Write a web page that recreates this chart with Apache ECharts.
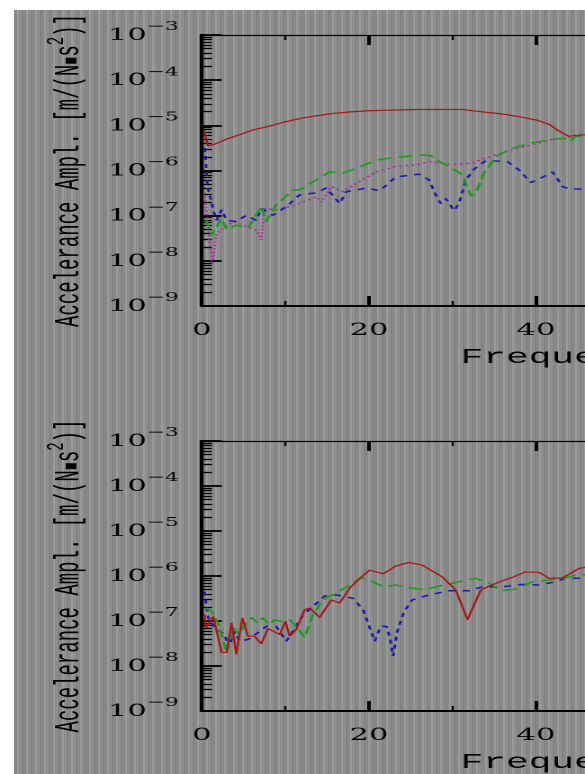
<!DOCTYPE html>
<html>
<head>
<meta charset="utf-8">
<script src="https://cdn.jsdelivr.net/npm/echarts@6/dist/echarts.min.js"></script>
<style>
html,body{margin:0;padding:0;width:585px;height:774px;overflow:hidden;background:#fff;}
#paper{position:absolute;left:14px;top:10px;width:571px;height:764px;background-color:#8d8d8d;
  background-image:repeating-linear-gradient(90deg,#888888 0px,#888888 3px,#9a9a9a 3px,#9a9a9a 5px,#8e8e8e 5px,#8e8e8e 8px,#808080 8px,#808080 9px);}
/* the original figure is stretched sideways, so the chart is drawn narrow and stretched */
#chart{position:absolute;left:0;top:0;width:600px;height:774px;transform:scaleX(1.8);transform-origin:0 0;}
</style>
</head>
<body>
<div id="paper"></div>
<div id="chart"></div>
<script>
// upper panel
var tRedF = [0.3,0.7,1.5,3,4.5,6,8,10,12,14,16,18,20,22,24,26,28,30,31.2,32,34,36,38,40,41.6,42.7,43.9,44.6,46];
var tRedA = [7.6e-6,3.5e-6,3.8e-6,5.0e-6,6.2e-6,7.8e-6,9.5e-6,1.2e-5,1.45e-5,1.66e-5,1.86e-5,2.0e-5,2.1e-5,2.15e-5,2.2e-5,2.24e-5,2.24e-5,2.24e-5,2.24e-5,2.15e-5,1.95e-5,1.78e-5,1.55e-5,1.32e-5,1.05e-5,7.6e-6,5.75e-6,5.9e-6,6.2e-6];
var tGrnF = [0.5,1.2,2.3,3.0,4.1,5.5,7.1,7.7,8.9,10.9,11.7,13.7,15.3,16.9,18.5,20.9,23.2,26.4,27.4,28.4,30,31.2,32.2,32.8,33.8,35.2,36.8,39.2,42,43.5,44.1,44.7,46];
var tGrnA = [7.9e-8,3.7e-8,8.7e-8,4.8e-8,6.2e-8,5.2e-8,1.58e-7,7.4e-8,1.74e-7,3.7e-7,3.7e-7,6.2e-7,9.3e-7,8.7e-7,1.12e-6,1.7e-6,1.95e-6,2.2e-6,2.14e-6,1.58e-6,1.12e-6,7.9e-7,2.75e-7,3.2e-7,8.7e-7,2.0e-6,2.95e-6,4.0e-6,4.9e-6,5.1e-6,4.4e-6,5.6e-6,6.0e-6];
var tBluF = [0.35,0.65,1.0,1.4,1.75,2.35,2.95,4.1,5.3,6.5,7.1,8.5,10.1,11.7,13.7,14.9,16.5,17.3,19.7,21.3,23.2,26,27.2,28,28.6,29.2,30.2,30.8,31.6,32.6,34,36.6,38,39.4,40.8,42,43.2,44,46];
var tBluA = [3.16e-6,4.4e-7,2.6e-7,1.23e-7,7.9e-8,1.35e-7,7.9e-8,7.4e-8,1.02e-7,7.9e-8,1.45e-7,1.02e-7,1.58e-7,2.9e-7,3.2e-7,4.1e-7,1.86e-7,3.4e-7,4.1e-7,3.55e-7,7.2e-7,8.3e-7,6.2e-7,2.9e-7,1.86e-7,2.4e-7,1.29e-7,1.86e-7,6.2e-7,1.07e-6,1.66e-6,1.58e-6,1.02e-6,5.4e-7,7.1e-7,9.3e-7,4.4e-7,3.9e-7,3.9e-7];
var tMagF = [0.3,0.5,1.0,1.27,1.75,2.55,3.74,4.9,6.5,7.1,7.5,8.9,10.5,12.1,13.7,14.3,15.5,16.9,18.5,20.9,23.2,25.6,27.2,29.2,30.5,32.4,34,36.4,39.2,42,44,44.9,46];
var tMagA = [3.2e-7,1.58e-7,1.74e-8,8.9e-9,4.1e-8,5.2e-8,7.4e-8,6.2e-8,4.8e-8,2.9e-8,1.45e-7,1.35e-7,1.58e-7,2.0e-7,2.6e-7,2.0e-7,4.4e-7,3.4e-7,5.2e-7,9.3e-7,1.23e-6,1.32e-6,1.58e-6,1.41e-6,1.35e-6,1.48e-6,1.9e-6,2.6e-6,3.6e-6,4.9e-6,5.4e-6,6.2e-6,6.5e-6];
// lower panel
var bRedF = [0.3,0.5,1.36,2.35,2.95,3.55,4.1,4.84,5.5,6.3,7.1,7.9,9.3,10.0,10.5,11.3,12.3,12.9,14.1,15.5,16.5,17.7,18.9,20.1,21.7,23.2,24.8,26.4,28.8,30.4,31.8,33.4,35.6,37.2,38.7,40.4,41.6,43.2,45.1,46];
var bRedA = [1.4e-7,7.1e-8,1.26e-7,2.0e-8,2.0e-8,9.1e-8,1.82e-8,1.17e-7,4.6e-8,4.6e-8,3.1e-8,6.8e-8,5.0e-8,9.8e-8,4.6e-8,6.5e-8,1.78e-7,1.95e-7,1.2e-7,2.95e-7,2.5e-7,5.4e-7,8.9e-7,1.35e-6,1.12e-6,1.66e-6,2.0e-6,1.74e-6,9.5e-7,4.9e-7,1.07e-7,4.9e-7,7.4e-7,9.3e-7,1.23e-6,1.2e-6,8.9e-7,9.1e-7,1.45e-6,1.58e-6];
var bGrnF = [0.4,1.16,2.0,2.95,3.74,4.5,4.9,5.9,6.7,7.3,8.1,8.7,9.5,10.5,11.3,12.3,13.3,14.5,16.1,17.7,19.1,20.1,21.7,23.2,24.8,26.8,28,30,31.6,32.8,34.4,35.8,37.6,39.6,41.6,43.5,44.9,46];
var bGrnA = [1.95e-7,1.62e-7,8.3e-8,2.0e-8,7.1e-8,5.0e-8,7.1e-8,1.2e-7,9.1e-8,1.17e-7,8.3e-8,1.07e-7,9.8e-8,1.07e-7,7.6e-8,4.3e-8,1.38e-7,2.95e-7,4.2e-7,6.3e-7,9.1e-7,8.1e-7,5.75e-7,6.3e-7,5.5e-7,4.9e-7,5.75e-7,6.9e-7,8.1e-7,8.9e-7,6.9e-7,4.7e-7,5.1e-7,7.4e-7,8.1e-7,9.1e-7,1.05e-6,1.07e-6];
var bBluF = [0.3,0.75,1.55,2.75,3.14,3.94,4.5,5.5,6.7,7.7,8.9,10.1,10.9,12.1,13.3,14.7,16.1,18.1,19.3,20.1,20.7,21.4,22.1,22.5,22.9,23.4,24.2,25.2,27.2,29.6,32,33.6,36,38.4,40.4,42.3,43.5,46];
var bBluA = [4.5e-7,1.17e-7,7.1e-8,5.0e-8,2.6e-8,5.9e-8,3.55e-8,3.9e-8,5.5e-8,7.6e-8,7.6e-8,3.55e-8,5.9e-8,1.38e-7,2.1e-7,3.6e-7,3.8e-7,3.2e-7,1.78e-7,7.1e-8,3.55e-8,7.6e-8,7.6e-8,4.3e-8,1.66e-8,5.9e-8,1.62e-7,2.95e-7,3.8e-7,4.7e-7,4.7e-7,5.75e-7,5.75e-7,6.5e-7,6.3e-7,7.4e-7,8.9e-7,8.9e-7];

// ticks
var decades = [1e-9,1e-8,1e-7,1e-6,1e-5,1e-4];
var mantissas = [2,3,4,5,6,7,8,9];
var minorTicks = [];
decades.forEach(function(d){ mantissas.forEach(function(m){ minorTicks.push(m*d); }); });

var mono = '"Courier New","Nimbus Mono PS","FreeMono","Liberation Mono",monospace';
var serif = '"DejaVu Serif",serif';
var chart = echarts.init(document.getElementById('chart'), null, {devicePixelRatio: 2});

function pairs(f, a){ return f.map(function(x,i){ return [x, a[i]]; }); }

function xBottom(gi){
  return {
    type:'value', gridIndex:gi, position:'bottom', min:0, max:100, interval:20,
    name:'Frequency [Hz]', nameLocation:'middle', nameGap:41,
    nameTextStyle:{fontFamily:mono, fontSize:21, color:'#000'},
    axisLine:{lineStyle:{color:'#000', width:2}},
    axisTick:{inside:true, length:10, lineStyle:{color:'#000', width:2}},
    minorTick:{show:true, splitNumber:2, length:5, lineStyle:{color:'#000', width:1.2}},
    axisLabel:{fontFamily:serif, fontSize:17, color:'#000', margin:16},
    splitLine:{show:false}
  };
}
function xTop(gi){
  return {
    type:'value', gridIndex:gi, position:'top', min:0, max:100, interval:20,
    axisLine:{lineStyle:{color:'#000', width:1.3}},
    axisTick:{inside:true, length:10, lineStyle:{color:'#000', width:2}},
    minorTick:{show:true, splitNumber:2, length:5, lineStyle:{color:'#000', width:1.2}},
    axisLabel:{show:false}, splitLine:{show:false}
  };
}
function yMain(gi){
  return {
    type:'log', logBase:10, gridIndex:gi, position:'left', min:1e-9, max:1e-3, splitNumber:6,
    name:'{a|Accelerance Ampl. [m/(N}{q|▪}{a|s}{p|2}{a|)]}',
    nameLocation:'middle', nameGap:64,
    nameTextStyle:{color:'#000', rich:{
      a:{fontFamily:mono, fontSize:19, color:'#000', lineHeight:20, verticalAlign:'bottom'},
      q:{fontFamily:'DejaVu Sans', fontSize:12, color:'#000', lineHeight:20, verticalAlign:'bottom', padding:[0,0,3,0]},
      p:{fontFamily:mono, fontSize:14, color:'#000', lineHeight:14, verticalAlign:'bottom', padding:[0,0,10,0]}
    }},
    axisLine:{show:true, lineStyle:{color:'#000', width:2.2}},
    axisTick:{show:true, inside:true, length:11, lineStyle:{color:'#000', width:1.8}},
    axisLabel:{
      margin:13, color:'#000',
      formatter:function(v){ return '{b|10}{e|\u2212' + Math.abs(Math.round(Math.log10(v))) + '}'; },
      rich:{
        b:{fontFamily:serif, fontSize:17, color:'#000', lineHeight:18, verticalAlign:'bottom'},
        e:{fontFamily:serif, fontSize:12, color:'#000', lineHeight:13, verticalAlign:'bottom', padding:[0,0,11,0]}
      }
    },
    splitLine:{show:false}
  };
}
function yMinor(gi){
  return {
    type:'log', logBase:10, gridIndex:gi, position:'left', min:1e-9, max:1e-3, splitNumber:6,
    axisLine:{show:false},
    axisTick:{show:true, inside:true, length:5.5, customValues:minorTicks, lineStyle:{color:'#000', width:1.3}},
    axisLabel:{show:false}, splitLine:{show:false}
  };
}
function line(name, xi, yi, data, color, type, width){
  return {
    name:name, type:'line', xAxisIndex:xi, yAxisIndex:yi, data:data,
    showSymbol:false, symbol:'none', animation:false,
    lineStyle:{color:color, width:width, type:type}
  };
}

var red = '#a41818', grn = '#1f9a1f', blu = '#1c1caa', mag = '#a8329e';

var option = {
  animation:false,
  grid:[
    {left:112.2, right:24, top:35, height:271},
    {left:112.2, right:24, top:441, height:273}
  ],
  xAxis:[xBottom(0), xTop(0), xBottom(1), xTop(1)],
  yAxis:[yMain(0), yMinor(0), yMain(1), yMinor(1)],
  series:[
    line('top-mag', 0, 0, pairs(tMagF, tMagA), mag, [1.5,2], 1.4),
    line('top-blu', 0, 0, pairs(tBluF, tBluA), blu, [4,4], 1.5),
    line('top-grn', 0, 0, pairs(tGrnF, tGrnA), grn, [8,4], 1.5),
    line('top-red', 0, 0, pairs(tRedF, tRedA), red, 'solid', 1.2),
    line('bot-blu', 2, 2, pairs(bBluF, bBluA), blu, [4,4], 1.5),
    line('bot-grn', 2, 2, pairs(bGrnF, bGrnA), grn, [8,4], 1.5),
    line('bot-red', 2, 2, pairs(bRedF, bRedA), red, 'solid', 1.2)
  ]
};
chart.setOption(option);
</script>
</body>
</html>
